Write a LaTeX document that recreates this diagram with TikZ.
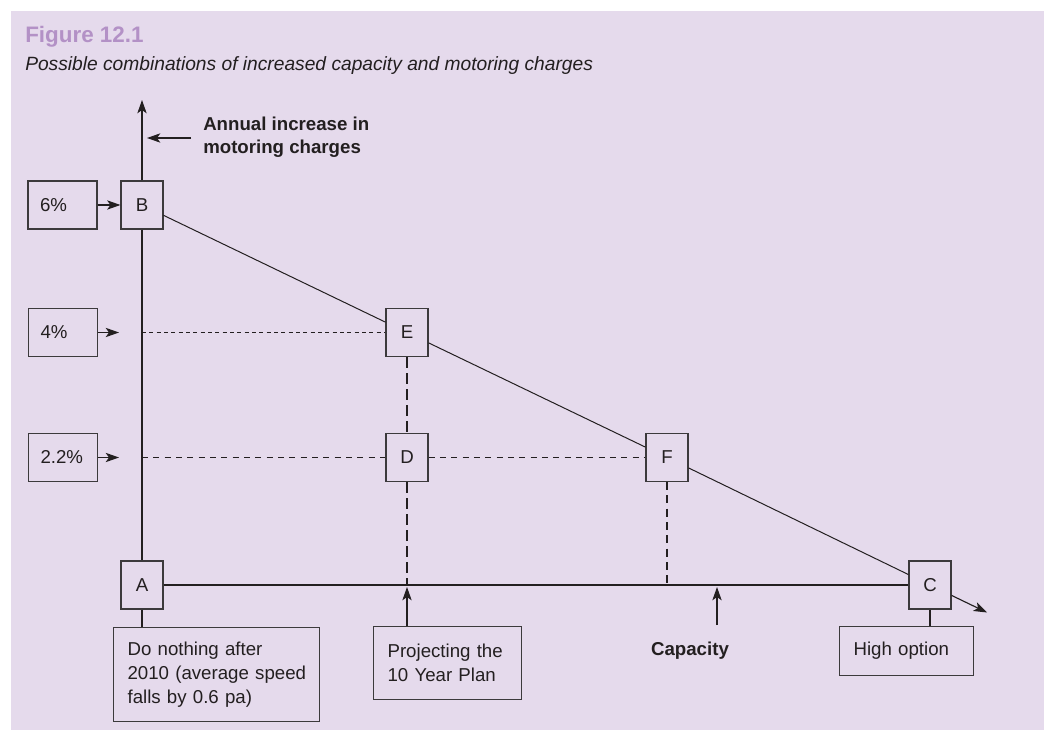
\documentclass[tikz,border=0pt]{standalone}
\usepackage{fontspec}
\setmainfont{Liberation Sans}
\usetikzlibrary{arrows.meta}
\definecolor{bgc}{HTML}{E5DAEC}
\definecolor{titlec}{HTML}{B391C6}
\definecolor{ink}{HTML}{231F20}
\definecolor{boxc}{HTML}{3C3A3C}
\begin{document}
\begin{tikzpicture}[x=0.75pt,y=-0.75pt,
  every node/.style={font=\fontsize{14}{18}\selectfont, text=ink},
  letterbox/.style={draw=boxc, line width=0.85pt, fill=bgc, minimum width=31.5pt, minimum height=36pt, inner sep=0pt},
  pctbox/.style={draw=boxc, line width=0.85pt, text width=33.75pt, inner xsep=9pt, inner ysep=0pt, minimum height=36pt, align=left},
  infobox/.style={draw=boxc, line width=0.85pt, inner xsep=10.5pt, inner ysep=0pt, align=left, anchor=north west},
  conn/.style={draw=ink, line width=0.85pt},
  slope/.style={draw=ink, line width=0.75pt},
  arr/.style={conn, -{Stealth[length=10pt,width=7pt,inset=2.5pt]}},
  dotline/.style={conn, dash pattern=on 3pt off 2.5pt},
  dashline/.style={conn, dash pattern=on 4.5pt off 4pt},
  longdash/.style={conn, dash pattern=on 8pt off 4pt},
  meddash/.style={conn, dash pattern=on 6pt off 4pt}
]
\useasboundingbox (0,0) rectangle (1044,730);
\fill[white] (0,0) rectangle (1044,730);
\fill[bgc] (11,11) rectangle (1044,730);

% titles
\node[anchor=base west, inner sep=0pt, font=\fontsize{16.8}{19}\selectfont\bfseries, text=titlec] (title) at (25,43) {Figure 12.1};
\node[anchor=base west, inner sep=0pt, font=\fontsize{14.4}{18}\selectfont\itshape] (sub) at (25,71) {Possible combinations of increased capacity and motoring charges};

% coordinates
\coordinate (ytop) at (142,100);
\coordinate (y4) at (142,332.5);
\coordinate (y22) at (142,457.5);
\coordinate (a4) at (119,332.5);
\coordinate (a22) at (119,457.5);
\coordinate (cend) at (987,612.5);
\coordinate (projtip) at (407,587);
\coordinate (capbase) at (717,625);
\coordinate (captip) at (717,587);
\coordinate (annstart) at (191,138);
\coordinate (annend) at (147,138);

% letter boxes
\node[letterbox] (B) at (142,205) {B};
\node[letterbox] (E) at (407,332.5) {E};
\node[letterbox] (D) at (407,457.5) {D};
\node[letterbox] (F) at (667,457.5) {F};
\node[letterbox] (C) at (930,585) {C};
\node[letterbox] (A) at (142,585) {A};

\draw[arr] (B.north) -- (ytop);
\draw[conn] (B) -- (A);
\draw[conn] (A) -- (C);
\draw[slope] (B) -- (E);
\draw[slope] (E) -- (F);
\draw[slope] (F) -- (C);
\draw[arr] (C) -- (cend);

\draw[dotline] (y4) -- (E);
\draw[dashline] (y22) -- (D);
\draw[dashline] (D) -- (F);
\draw[longdash] (E) -- (D);
\draw[longdash] (D) -- (D |- A);
\draw[meddash] (F) -- (F |- A);

% percent boxes
\node[pctbox] (p6) at (62.5,205) {6\%};
\node[pctbox] (p4) at (63,332.5) {4\%};
\node[pctbox] (p22) at (63,457.5) {2.2\%};
\draw[arr] (p6) -- (B);
\draw[arr] (p4) -- (a4);
\draw[arr] (p22) -- (a22);

% axis label
\draw[arr] (annstart) -- (annend);
\node[anchor=west, inner sep=0pt, align=left, font=\fontsize{14}{17.5}\selectfont\bfseries] (ann) at (203,137) {Annual increase in\\motoring charges};

% bottom boxes
\node[infobox, text width=133.5pt, minimum height=70.5pt] (nothing) at (113,627) {Do nothing after\\\mbox{2010 (average speed}\\falls by 0.6 pa)};
\node[infobox, text width=90pt, minimum height=54.75pt] (proj) at (373,626) {Projecting the\\10 Year Plan};
\node[infobox, text width=79.5pt, minimum height=36.75pt] (high) at (839,626) {High option};
\node[font=\fontsize{14}{18}\selectfont\bfseries] (cap) at (690,651) {Capacity};

\draw[conn] (A) -- (A |- nothing.north);
\draw[conn] (C) -- (C |- high.north);
\draw[arr] (proj.north -| projtip) -- (projtip);
\draw[arr] (capbase) -- (captip);
\end{tikzpicture}
\end{document}
